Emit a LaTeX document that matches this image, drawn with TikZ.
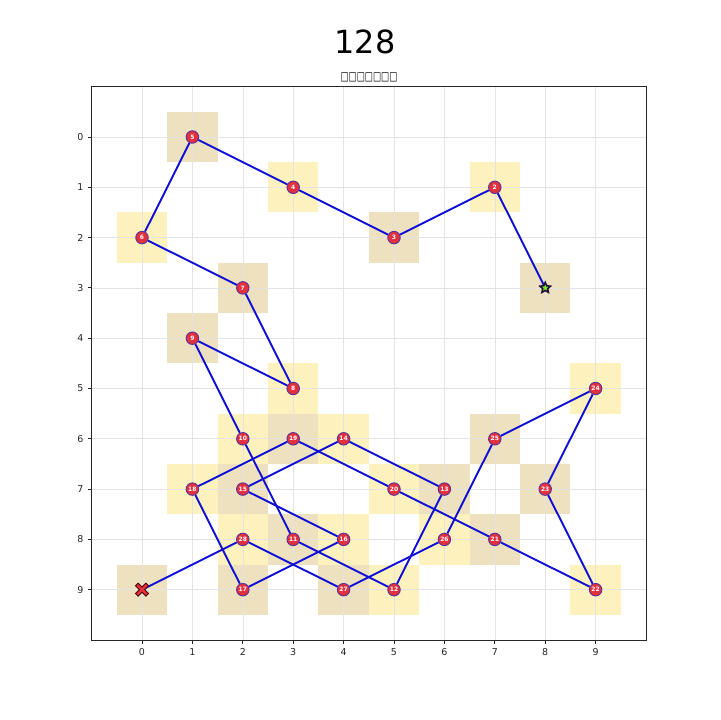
\documentclass[tikz,border=0pt]{standalone}
\usepackage{fontspec}
\setmainfont{DejaVu Sans}
\usetikzlibrary{shapes.geometric}
\definecolor{celly}{RGB}{253,242,190}
\definecolor{cellt}{RGB}{237,225,192}
\definecolor{pathblue}{RGB}{15,15,215}
\definecolor{nodered}{RGB}{226,48,62}
\definecolor{nodeedge}{RGB}{90,50,150}
\definecolor{stargreen}{RGB}{120,230,40}
\tikzset{
  pt/.style={circle,fill=nodered,draw=nodeedge,line width=0.9bp,minimum size=12.5bp,inner sep=0pt,
    text=white,font=\fontsize{6}{6}\selectfont\bfseries},
  startmark/.style={star,star points=5,star point ratio=2.1,fill=stargreen,draw=black!60!nodeedge,line width=1.6bp,minimum size=11bp,inner sep=0pt},
  edge/.style={draw=pathblue,line width=1.9bp},
  gridline/.style={draw=black!11,line width=0.6bp},
  ycell/.style={fill=celly},
  tcell/.style={fill=cellt},
  ticklab/.style={font=\fontsize{9.5}{10}\selectfont,text=black!85},
}
\begin{document}
\begin{tikzpicture}[x=1bp,y=1bp]
\useasboundingbox (0,0) rectangle (720,720);
\fill[white] (0,0) rectangle (720,720);
\node[font=\fontsize{32}{34}\selectfont] (ttl) at (365,678) {128};
\node[font=\fontsize{12}{12}\selectfont] (sub) at (369,643) {\scalebox{0.72}[1]{□□□□□□□}};
\begin{scope}[shift={(142,583)},x=50.4bp,y=-50.3bp]
  % cells
  \foreach \c in {(3,1),(7,1),(0,2),(3,5),(9,5),(2,6),(4,6),(1,7),(5,7),(2,8),(4,8),(6,8),(9,9),(5,9)}
    \fill[ycell] \c ++(-0.5,-0.5) rectangle ++(1,1);
  \foreach \c in {(1,0),(5,2),(8,3),(2,3),(1,4),(3,6),(7,6),(8,7),(6,7),(7,8),(3,8),(2,7),(2,9),(4,9),(0,9)}
    \fill[tcell] \c ++(-0.5,-0.5) rectangle ++(1,1);
  % grid
  \foreach \i in {0,...,9} {
    \draw[gridline] (\i,-1) -- (\i,10);
    \draw[gridline] (-1,\i) -- (10,\i);
  }
  % frame
  \draw[black!85,line width=0.8bp] (-1,-1) rectangle (10,10);
  \foreach \i in {0,...,9} {
    \draw[black!85,line width=0.8bp] (\i,10) -- ++(0,-3.5bp) node[below=1bp,ticklab] {\i};
    \draw[black!85,line width=0.8bp] (-1,\i) -- ++(-3.5bp,0) node[left=1bp,ticklab] {\i};
  }
  % nodes
  \coordinate (n29) at (0,9);
  \coordinate (n1) at (8,3);
  \node[pt] (n2) at (7,1) {2};
  \node[pt] (n3) at (5,2) {3};
  \node[pt] (n4) at (3,1) {4};
  \node[pt] (n5) at (1,0) {5};
  \node[pt] (n6) at (0,2) {6};
  \node[pt] (n7) at (2,3) {7};
  \node[pt] (n8) at (3,5) {8};
  \node[pt] (n9) at (1,4) {9};
  \node[pt] (n10) at (2,6) {10};
  \node[pt] (n11) at (3,8) {11};
  \node[pt] (n12) at (5,9) {12};
  \node[pt] (n13) at (6,7) {13};
  \node[pt] (n14) at (4,6) {14};
  \node[pt] (n15) at (2,7) {15};
  \node[pt] (n16) at (4,8) {16};
  \node[pt] (n17) at (2,9) {17};
  \node[pt] (n18) at (1,7) {18};
  \node[pt] (n19) at (3,6) {19};
  \node[pt] (n20) at (5,7) {20};
  \node[pt] (n21) at (7,8) {21};
  \node[pt] (n22) at (9,9) {22};
  \node[pt] (n23) at (8,7) {23};
  \node[pt] (n24) at (9,5) {24};
  \node[pt] (n25) at (7,6) {25};
  \node[pt] (n26) at (6,8) {26};
  \node[pt] (n27) at (4,9) {27};
  \node[pt] (n28) at (2,8) {28};
  % edges
  \foreach \a/\b in {1/2,2/3,3/4,4/5,5/6,6/7,7/8,8/9,9/10,10/11,11/12,12/13,13/14,14/15,15/16,16/17,17/18,18/19,19/20,20/21,21/22,22/23,23/24,24/25,25/26,26/27,27/28,28/29}
    \draw[edge] (n\a) -- (n\b);
  % start marker
  \node[startmark] (startstar) at (n1) {};
  % end marker X
  \fill[nodered,draw=black!70!red,line width=0.9bp,shift={(n29)},x=6.5bp,y=6.5bp]
    (0,0.4) -- (0.6,1) -- (1,0.6) -- (0.4,0) -- (1,-0.6) -- (0.6,-1) -- (0,-0.4) -- (-0.6,-1) -- (-1,-0.6) -- (-0.4,0) -- (-1,0.6) -- (-0.6,1) -- cycle;
\end{scope}
\end{tikzpicture}
\end{document}
